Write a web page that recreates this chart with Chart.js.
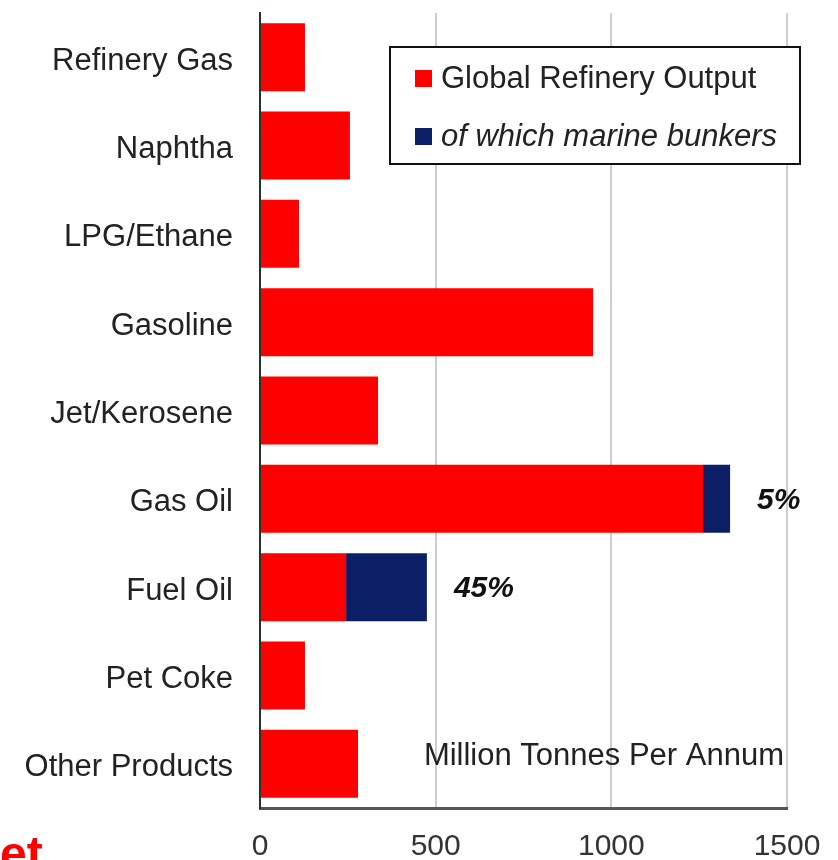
<!DOCTYPE html>
<html>
<head>
<meta charset="utf-8">
<script src="https://cdn.jsdelivr.net/npm/chart.js@4"></script>
<style>
  html, body { margin: 0; padding: 0; background: #ffffff; }
  #wrap { width: 838px; height: 860px; position: relative; }
</style>
</head>
<body>
<div id="wrap"><canvas id="refineryChart"></canvas></div>
<script>
/* ----------------------------- DATA ----------------------------- */
const categories = [
  "Refinery Gas", "Naphtha", "LPG/Ethane", "Gasoline", "Jet/Kerosene",
  "Gas Oil", "Fuel Oil", "Pet Coke", "Other Products"
];
// Million tonnes per annum, non-bunker part of output
const refineryOutput = [128, 256, 111, 948, 336, 1261, 245, 128, 279];
// marine bunker part (stacked on top)
const marineBunkers = [0, 0, 0, 0, 0, 77, 230, 0, 0];
const bunkerShares = ["", "", "", "", "", "5%", "45%", "", ""];
const xTicks = [0, 500, 1000, 1500];

const seriesNames = ["Global Refinery Output", "of which marine bunkers"];
const seriesColors = ["#ff0000", "#0c1f66"];

const FONT = "'Liberation Sans', Arial, sans-serif";

/* --------------------------- PLUGINS ---------------------------- */
// share labels at the end of the stacked bars
const shareLabelPlugin = {
  id: "shareLabels",
  afterDatasetsDraw(chart) {
    const ctx = chart.ctx;
    const meta = chart.getDatasetMeta(1);
    ctx.save();
    ctx.font = "italic bold 30px " + FONT;
    ctx.fillStyle = "#111";
    ctx.textAlign = "left";
    ctx.textBaseline = "middle";
    bunkerShares.forEach((txt, i) => {
      if (!txt) return;
      const bar = meta.data[i];
      ctx.fillText(txt, bar.x + 27, bar.y + 2);
    });
    ctx.restore();
  }
};

// boxed legend inside the plot + unit note + stray caption
const boxLegendPlugin = {
  id: "boxLegend",
  afterDraw(chart) {
    const ctx = chart.ctx;
    const ca = chart.chartArea;
    const left = ca.left + 130, top = ca.top + 34;
    const w = 410, h = 117;
    ctx.save();
    ctx.fillStyle = "#ffffff";
    ctx.fillRect(left, top, w, h);
    ctx.strokeStyle = "#111";
    ctx.lineWidth = 2;
    ctx.strokeRect(left, top, w, h);

    const rows = [top + 31, top + 89];
    chart.data.datasets.forEach((ds, i) => {
      ctx.fillStyle = ds.backgroundColor;
      ctx.fillRect(left + 25, rows[i] - 8, 17, 17);
      ctx.fillStyle = "#222";
      ctx.font = (i === 1 ? "italic " : "") + "31px " + FONT;
      ctx.textAlign = "left";
      ctx.textBaseline = "middle";
      ctx.fillText(ds.label, left + 51, rows[i] + 1);
    });

    ctx.font = "31px " + FONT;
    ctx.fillStyle = "#222";
    ctx.textAlign = "right";
    ctx.textBaseline = "middle";
    ctx.fillText("Million Tonnes Per Annum", ca.right - 3, ca.bottom - 52);

    ctx.font = "bold 48px " + FONT;
    ctx.fillStyle = "#ff0000";
    ctx.textAlign = "left";
    ctx.textBaseline = "alphabetic";
    ctx.fillText("et", 0, 870);
    ctx.restore();
  }
};

/* ---------------------------- CHART ----------------------------- */
const chartData = {
  labels: categories,
  datasets: [
    {
      label: seriesNames[0],
      data: refineryOutput,
      backgroundColor: seriesColors[0],
      categoryPercentage: 1,
      barPercentage: 0.77,
    },
    {
      label: seriesNames[1],
      data: marineBunkers,
      backgroundColor: seriesColors[1],
      categoryPercentage: 1,
      barPercentage: 0.77,
    },
  ],
};

const chartOptions = {
  indexAxis: "y",
  responsive: true,
  maintainAspectRatio: false,
  animation: false,
  layout: { padding: { top: 13, right: 51, left: 0, bottom: 0 } },
  plugins: {
    legend: { display: false },
    tooltip: { enabled: false },
  },
  scales: {
    x: {
      stacked: true,
      min: 0,
      max: 1500,
      afterBuildTicks(scale) {
        scale.ticks = xTicks.map((v) => ({ value: v }));
      },
      afterFit(scale) {
        scale.height = 52;
        scale.paddingLeft = 0;
        scale.paddingRight = 0;
      },
      grid: {
        drawTicks: false,
        color: (c) => (c.tick && c.tick.value === 0 ? "rgba(0,0,0,0)" : "#cdcdcd"),
        lineWidth: 2,
      },
      border: { display: true, color: "#555", width: 3 },
      ticks: {
        padding: 21,
        color: "#333",
        font: { family: FONT, size: 30 },
        maxRotation: 0,
        callback: (v) => String(v),
      },
    },
    y: {
      stacked: true,
      afterFit(scale) {
        scale.width = 260;
        scale.paddingTop = 0;
        scale.paddingBottom = 0;
      },
      grid: { display: false, drawTicks: false },
      border: { display: true, color: "#24332a", width: 2 },
      ticks: {
        padding: 27,
        labelOffset: 4,
        color: "#222",
        font: { family: FONT, size: 31 },
      },
    },
  },
};

new Chart(document.getElementById("refineryChart"), {
  type: "bar",
  data: chartData,
  options: chartOptions,
  plugins: [shareLabelPlugin, boxLegendPlugin],
});
</script>
</body>
</html>
